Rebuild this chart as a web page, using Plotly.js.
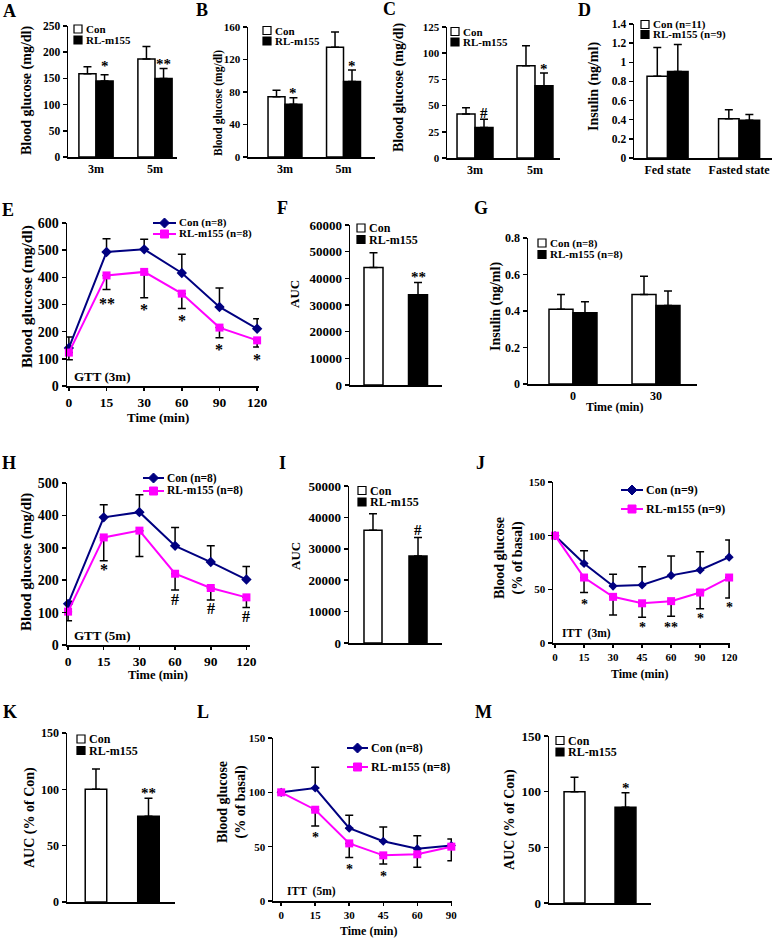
<!DOCTYPE html>
<html>
<head>
<meta charset="utf-8">
<script src="https://cdn.plot.ly/plotly-3.0.1.min.js"></script>
<style>
  body { margin: 0; background: #fff; }
  #myDiv { width: 778px; height: 940px; }
</style>
</head>
<body>
<div id="myDiv"></div>
<script>
// ---------- values ----------
// A-C: fasting blood glucose (mg/dl) at 3 and 5 months
const ageCats = ['3m', '5m'];
const glucA_con = [159, 187];
const glucA_conErr = [13, 24];
const glucA_rl = [145, 150];
const glucA_rlErr = [12, 19];
const glucA_sig = ['*', '**'];

const glucB_con = [74, 135];
const glucB_conErr = [8, 19];
const glucB_rl = [65, 93];
const glucB_rlErr = [8, 14];
const glucB_sig = ['*', '*'];

const glucC_con = [42, 88];
const glucC_conErr = [6, 19];
const glucC_rl = [29, 69];
const glucC_rlErr = [8, 12];
const glucC_sig = ['#', '*'];

// D: insulin, fed vs fasted
const stateCats = ['Fed state', 'Fasted state'];
const insD_con = [0.855, 0.41];
const insD_conErr = [0.30, 0.095];
const insD_rl = [0.905, 0.395];
const insD_rlErr = [0.28, 0.06];

// E: GTT at 3 months
const gttTimes = ['0', '15', '30', '60', '90', '120'];
const gttE_con = [140, 493, 503, 416, 291, 211];
const gttE_conErr = [40, 49, 37, 69, 70, 37];
const gttE_rl = [123, 407, 420, 340, 215, 168];
const gttE_rlErr = [26, 52, 95, 55, 37, 24];
const gttE_sig = ['', '**', '*', '*', '*', '*'];

// F: GTT AUC (3m)
const aucF_con = 44100, aucF_conErr = 5500;
const aucF_rl = 33800, aucF_rlErr = 4600;

// G: insulin during GTT
const insTimes = ['0', '30'];
const insG_con = [0.41, 0.49];
const insG_conErr = [0.08, 0.10];
const insG_rl = [0.39, 0.43];
const insG_rlErr = [0.06, 0.08];

// H: GTT at 5 months
const gttH_con = [127, 394, 410, 306, 256, 202];
const gttH_conErr = [8, 39, 54, 57, 50, 40];
const gttH_rl = [103, 332, 353, 220, 176, 147];
const gttH_rlErr = [28, 72, 80, 50, 37, 31];
const gttH_sig = ['', '*', '', '#', '#', '#'];

// I: GTT AUC (5m)
const aucI_con = 35900, aucI_conErr = 5300;
const aucI_rl = 27700, aucI_rlErr = 5900;

// J: ITT at 3 months (% of basal)
const ittJTimes = ['0', '15', '30', '45', '60', '90', '120'];
const ittJ_con = [100, 74, 53, 54, 63, 68, 80];
const ittJ_conErr = [0, 12, 11, 17, 18, 17, 16];
const ittJ_rl = [100, 61, 43, 37, 39, 47, 61];
const ittJ_rlErr = [0, 14, 17, 13, 14, 15, 19];
const ittJ_sig = ['', '*', '', '*', '**', '*', '*'];

// K: ITT AUC (3m, % of Con)
const aucK_con = 100, aucK_conErr = 18;
const aucK_rl = 76, aucK_rlErr = 16;

// L: ITT at 5 months
const ittLTimes = ['0', '15', '30', '45', '60', '90'];
const ittL_con = [100, 104, 67, 55, 48, 51];
const ittL_conErr = [0, 19, 12, 13, 12, 6];
const ittL_rl = [100, 84, 53, 42, 43, 50];
const ittL_rlErr = [0, 15, 13, 8, 12, 13];
const ittL_sig = ['', '*', '*', '*', '', ''];

// M: ITT AUC (5m, % of Con)
const aucM_con = 100, aucM_conErr = 13;
const aucM_rl = 86, aucM_rlErr = 13;

// ---------- drawing helpers ----------
const FONT = 'Liberation Serif, Times New Roman, serif';
const NAVY = '#000080';
const PINK = '#ff00ff';
const W = 778, H = 940;
const px = v => v / W;        // pixel x -> paper
const py = v => 1 - v / H;    // pixel y -> paper

let data = [];
let shapes = [];
let annotations = [];
let layout = {
    width: W, height: H,
    margin: { l: 0, r: 0, t: 0, b: 0 },
    paper_bgcolor: 'white',
    plot_bgcolor: 'rgba(0,0,0,0)',
    showlegend: false,
    barmode: 'overlay',
    font: { family: FONT, color: 'black' }
};

function sfx(n) { return n === 1 ? '' : String(n); }
function font(size) { return { family: FONT, size: size, color: 'black', weight: 'bold' }; }

// one-sided error bars: up for Con, down for RL in the line plots
function errBar(err, up) {
    let zeros = err.map(() => 0);
    return {
        type: 'data', symmetric: false,
        array: up ? err : zeros,
        arrayminus: up ? zeros : err,
        color: 'black', thickness: 1.5, width: 4
    };
}

function addAxes(n, box, xrange, yrange, dtick, tickSize, xopts) {
    let s = sfx(n);
    layout['xaxis' + s] = Object.assign({
        domain: [px(box[0]), px(box[1])],
        range: xrange, anchor: 'y' + s,
        showline: true, linecolor: 'black', linewidth: 1.5,
        showgrid: false, zeroline: false, fixedrange: true,
        ticks: '', tickmode: 'array', tickvals: [], ticktext: [],
        tickfont: font(12)
    }, xopts || {});
    layout['yaxis' + s] = {
        domain: [py(box[3]), py(box[2])],
        range: yrange, anchor: 'x' + s,
        tick0: 0, dtick: dtick,
        showline: true, linecolor: 'black', linewidth: 1.5,
        showgrid: false, zeroline: false, fixedrange: true,
        ticks: 'outside', ticklen: 4, tickwidth: 1.5, tickcolor: 'black',
        tickfont: font(tickSize),
        tickformat: yrange[1] > 1000 ? 'd' : ''
    };
}

function barTrace(n, x, y, err, isCon, w, offset) {
    let s = sfx(n);
    return {
        type: 'bar', x: x, y: y, width: w, offset: offset,
        xaxis: 'x' + s, yaxis: 'y' + s,
        marker: { color: isCon ? 'white' : 'black', line: { color: 'black', width: 1.5 } },
        error_y: errBar(err, true),
        hoverinfo: 'y'
    };
}

function groupedBars(n, cats, con, conErr, rl, rlErr, w) {
    let x = cats.map((c, i) => i);
    data.push(barTrace(n, x, con, conErr, true, w, -w));
    data.push(barTrace(n, x, rl, rlErr, false, w, 0));
}

function pairBars(n, con, conErr, rl, rlErr, w) {
    data.push(barTrace(n, [0], [con], [conErr], true, w, -w / 2));
    data.push(barTrace(n, [1], [rl], [rlErr], false, w, -w / 2));
}

function lineSeries(n, con, conErr, rl, rlErr, dSize, sSize) {
    let s = sfx(n);
    let x = con.map((v, i) => i);
    data.push({
        type: 'scatter', mode: 'lines+markers', x: x, y: con,
        xaxis: 'x' + s, yaxis: 'y' + s, cliponaxis: false,
        line: { color: NAVY, width: 2 },
        marker: { symbol: 'diamond', size: dSize, color: NAVY },
        error_y: errBar(conErr, true)
    });
    data.push({
        type: 'scatter', mode: 'lines+markers', x: x, y: rl,
        xaxis: 'x' + s, yaxis: 'y' + s, cliponaxis: false,
        line: { color: PINK, width: 2 },
        marker: { symbol: 'square', size: sSize, color: PINK },
        error_y: errBar(rlErr, false)
    });
}

// significance marks, placed in data units of the panel
function sig(n, xs, ys, texts, size) {
    let s = sfx(n);
    texts.forEach((t, i) => {
        if (!t) return;
        annotations.push({
            xref: 'x' + s, yref: 'y' + s, x: xs[i], y: ys[i], text: t,
            showarrow: false, xanchor: 'center', yanchor: 'middle',
            yshift: t.indexOf('*') >= 0 ? -3 : 0, font: font(size)
        });
    });
}

function label(x, y, text, size, opts) {
    annotations.push(Object.assign({
        xref: 'paper', yref: 'paper', x: px(x), y: py(y), text: text,
        showarrow: false, xanchor: 'center', yanchor: 'middle', font: font(size)
    }, opts || {}));
}

function ytitle(x, y, text, size) { label(x, y, text, size, { textangle: -90 }); }

// hand drawn legend boxes (square + text)
function boxLegend(x, yCon, yRl, size, names) {
    [[yCon, 'white', names[0]], [yRl, 'black', names[1]]].forEach(item => {
        shapes.push({
            type: 'rect', xref: 'paper', yref: 'paper',
            x0: px(x), x1: px(x + 8), y0: py(item[0] + 4), y1: py(item[0] - 4),
            fillcolor: item[1], line: { color: 'black', width: 1.2 }
        });
        label(x + 11, item[0], item[2], size, { xanchor: 'left', borderpad: 0 });
    });
}

function lineLegend(x0, x1, yCon, yRl, size, names) {
    let cx = (x0 + x1) / 2;
    shapes.push({ type: 'line', xref: 'paper', yref: 'paper', x0: px(x0), x1: px(x1), y0: py(yCon), y1: py(yCon), line: { color: NAVY, width: 2 } });
    shapes.push({
        type: 'path', xref: 'paper', yref: 'paper', fillcolor: NAVY, line: { color: NAVY, width: 1 },
        path: 'M' + px(cx) + ',' + py(yCon - 5) + 'L' + px(cx + 5) + ',' + py(yCon) +
              'L' + px(cx) + ',' + py(yCon + 5) + 'L' + px(cx - 5) + ',' + py(yCon) + 'Z'
    });
    shapes.push({ type: 'line', xref: 'paper', yref: 'paper', x0: px(x0), x1: px(x1), y0: py(yRl), y1: py(yRl), line: { color: PINK, width: 2 } });
    shapes.push({
        type: 'rect', xref: 'paper', yref: 'paper', fillcolor: PINK, line: { color: PINK, width: 1 },
        x0: px(cx - 4), x1: px(cx + 4), y0: py(yRl + 4), y1: py(yRl - 4)
    });
    label(x1 + 2, yCon, names[0], size, { xanchor: 'left', borderpad: 0 });
    label(x1 + 2, yRl, names[1], size, { xanchor: 'left', borderpad: 0 });
}

function catTicks(cats) {
    return { tickvals: cats.map((c, i) => i), ticktext: cats, tickfont: font(12) };
}
function timeTicks(times, size) {
    return {
        tickvals: times.map((t, i) => i), ticktext: times, tickfont: font(size),
        ticks: 'outside', ticklen: 3, tickwidth: 1.5, tickcolor: 'black'
    };
}

// ---------- A ----------
addAxes(1, [68, 177, 26, 157], [-0.475, 1.373], [0, 250], 50, 11.5, catTicks(ageCats));
groupedBars(1, ageCats, glucA_con, glucA_conErr, glucA_rl, glucA_rlErr, 0.29);
sig(1, [0.145, 1.145], [179, 183], glucA_sig, 15);
boxLegend(74, 29, 40, 11, ['Con', 'RL-m155']);
ytitle(27, 91, 'Blood glucose (mg/dl)', 14);
label(9, 11, 'A', 18);

// ---------- B ----------
addAxes(2, [248, 375, 27, 157], [-0.632, 1.538], [0, 160], 40, 11, catTicks(ageCats));
groupedBars(2, ageCats, glucB_con, glucB_conErr, glucB_rl, glucB_rlErr, 0.29);
sig(2, [0.145, 1.145], [83, 116], glucB_sig, 15);
boxLegend(263, 30.5, 41, 11, ['Con', 'RL-m155']);
ytitle(218, 103, 'Blood glucose (mg/dl)', 11.5);
label(202, 10, 'B', 18);

// ---------- C ----------
addAxes(3, [447, 560, 27, 158], [-0.467, 1.417], [0, 125], 25, 11, catTicks(ageCats));
groupedBars(3, ageCats, glucC_con, glucC_conErr, glucC_rl, glucC_rlErr, 0.3);
sig(3, [0.15, 1.15], [43, 88], glucC_sig, 15);
boxLegend(451, 31.5, 42, 11, ['Con', 'RL-m155']);
ytitle(399, 88, 'Blood glucose (mg/dl)', 14);
label(389, 9, 'C', 18);

// ---------- D ----------
addAxes(4, [634, 772, 24, 158], [-0.469, 1.46], [0, 1.4], 0.2, 11.5, catTicks(stateCats));
groupedBars(4, stateCats, insD_con, insD_conErr, insD_rl, insD_rlErr, 0.287);
boxLegend(641, 24.5, 34.5, 11, ['Con (n=11)', 'RL-m155 (n=9)']);
ytitle(594, 87, 'Insulin (ng/ml)', 14);
label(584, 10, 'D', 18);

// ---------- E ----------
addAxes(5, [67, 259, 223, 386], [-0.05, 5.05], [0, 600], 100, 14, timeTicks(gttTimes, 13.5));
lineSeries(5, gttE_con, gttE_conErr, gttE_rl, gttE_rlErr, 8, 8);
sig(5, [0, 1, 2, 3, 4, 5], [0, 315, 291, 254, 146, 109], gttE_sig, 16);
lineLegend(153, 176, 223, 234, 11, ['Con (n=8)', 'RL-m155 (n=8)']);
label(72, 377, 'GTT (3m)', 13, { xanchor: 'left' });
ytitle(27, 297, 'Blood glucose (mg/dl)', 15.5);
label(158, 417, 'Time (min)', 13);
label(8, 210, 'E', 18);

// ---------- F ----------
addAxes(6, [350, 442, 225, 385], [-0.528, 1.539], [0, 60000], 10000, 13);
pairBars(6, aucF_con, aucF_conErr, aucF_rl, aucF_rlErr, 0.427);
sig(6, [1], [41600], ['**'], 15);
boxLegend(357, 228, 239.5, 12, ['Con', 'RL-m155']);
ytitle(295, 294, 'AUC', 13);
label(282, 208, 'F', 18);

// ---------- G ----------
addAxes(7, [528, 697, 238, 384], [-0.542, 1.494], [0, 0.8], 0.2, 12, catTicks(insTimes));
groupedBars(7, insTimes, insG_con, insG_conErr, insG_rl, insG_rlErr, 0.289);
boxLegend(538, 243, 254.5, 11, ['Con (n=8)', 'RL-m155 (n=8)']);
ytitle(496, 307, 'Insulin (ng/ml)', 14);
label(614, 407, 'Time (min)', 12);
label(481, 208, 'G', 18);

// ---------- H ----------
addAxes(8, [67, 250, 483, 645], [-0.03, 5.1], [0, 500], 100, 14, timeTicks(gttTimes, 13.5));
lineSeries(8, gttH_con, gttH_conErr, gttH_rl, gttH_rlErr, 8, 8);
sig(8, [0, 1, 2, 3, 4, 5], [0, 242, 0, 139, 113, 88], gttH_sig, 16);
lineLegend(143, 164, 478, 491, 11.5, ['Con (n=8)', 'RL-m155 (n=8)']);
label(72, 635, 'GTT (5m)', 13, { xanchor: 'left' });
ytitle(26, 562, 'Blood glucose (mg/dl)', 15);
label(158, 675, 'Time (min)', 12.5);
label(9, 463, 'H', 18);

// ---------- I ----------
addAxes(9, [349, 442, 486, 643], [-0.533, 1.533], [0, 50000], 10000, 13);
pairBars(9, aucI_con, aucI_conErr, aucI_rl, aucI_rlErr, 0.4);
sig(9, [1], [35900], ['#'], 15);
boxLegend(358, 490.5, 502, 12, ['Con', 'RL-m155']);
ytitle(295, 556, 'AUC', 13);
label(282, 463, 'I', 18);

// ---------- J ----------
addAxes(10, [553, 730, 482, 643], [-0.07, 6.03], [0, 150], 50, 11, timeTicks(ittJTimes, 11));
lineSeries(10, ittJ_con, ittJ_conErr, ittJ_rl, ittJ_rlErr, 7, 8);
sig(10, [0, 1, 2, 3, 4, 5, 6], [0, 39, 0, 17, 17, 26, 36], ittJ_sig, 14);
lineLegend(621, 643, 490, 509, 12, ['Con (n=9)', 'RL-m155 (n=9)']);
label(560, 633, 'ITT\u00a0 (3m)', 11.5, { xanchor: 'left' });
ytitle(509, 558, 'Blood glucose<br>(% of basal)', 14);
label(639, 674, 'Time (min)', 12);
label(480, 463, 'J', 18);

// ---------- K ----------
addAxes(11, [67, 175, 733, 902], [-0.552, 1.505], [0, 150], 50, 12);
pairBars(11, aucK_con, aucK_conErr, aucK_rl, aucK_rlErr, 0.41);
sig(11, [1], [99], ['**'], 15);
boxLegend(77, 739, 750.5, 12, ['Con', 'RL-m155']);
ytitle(30, 818, 'AUC (% of Con)', 14);
label(10, 712, 'K', 18);

// ---------- L ----------
addAxes(12, [273, 452, 738, 901], [-0.24, 5.02], [0, 150], 50, 11, timeTicks(ittLTimes, 11));
lineSeries(12, ittL_con, ittL_conErr, ittL_rl, ittL_rlErr, 7, 8);
sig(12, [0, 1, 2, 3, 4, 5], [0, 61, 32, 25, 0, 0], ittL_sig, 14);
lineLegend(347, 368, 748, 767, 12, ['Con (n=8)', 'RL-m155 (n=8)']);
label(285, 891, 'ITT\u00a0 (5m)', 11.5, { xanchor: 'left' });
ytitle(232, 802, 'Blood glucose<br>(% of basal)', 14);
label(368, 931, 'Time (min)', 12);
label(203, 712, 'L', 18);

// ---------- M ----------
addAxes(13, [549, 651, 736, 903], [-0.5, 1.5], [0, 150], 50, 13);
pairBars(13, aucM_con, aucM_conErr, aucM_rl, aucM_rlErr, 0.41);
sig(13, [1], [106], ['*'], 15);
boxLegend(556, 740.5, 752, 12, ['Con', 'RL-m155']);
ytitle(510, 820, 'AUC (% of Con)', 14);
label(483, 712, 'M', 18);

layout.shapes = shapes;
layout.annotations = annotations;

Plotly.newPlot('myDiv', data, layout, { staticPlot: true, displayModeBar: false });
</script>
</body>
</html>
